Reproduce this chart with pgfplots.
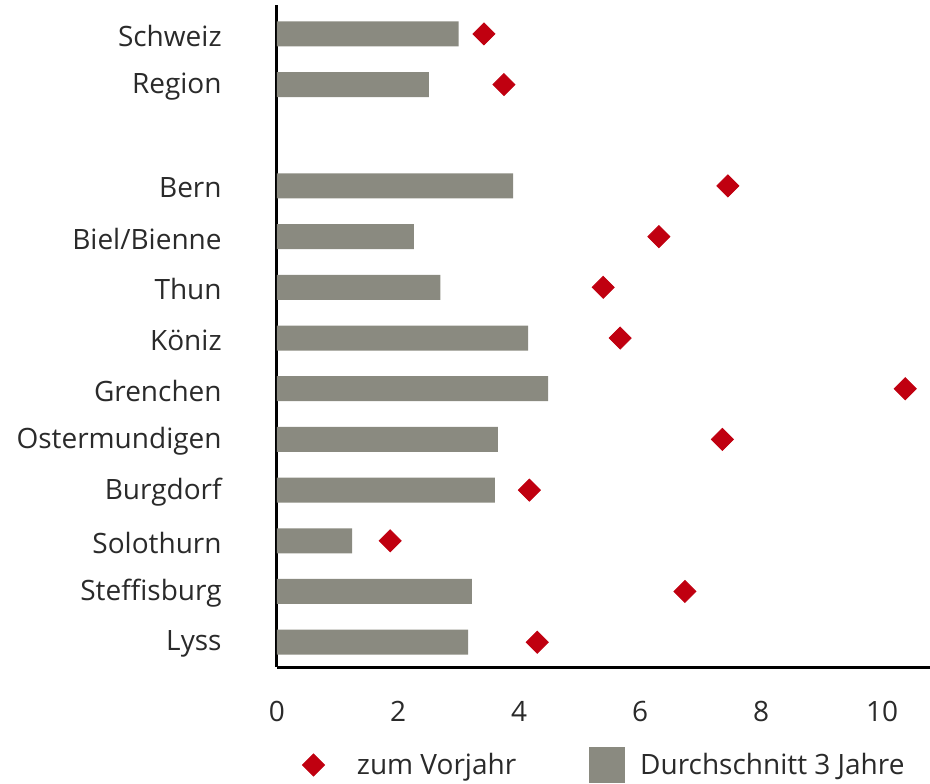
\documentclass[border=0pt]{standalone}
\usepackage{fontspec}
\setmainfont{Open Sans}
\usepackage{pgfplots}
\pgfplotsset{compat=1.18}
\definecolor{bargray}{HTML}{8A8A80}
\definecolor{dred}{HTML}{C00010}
\definecolor{txt}{HTML}{2A2A2A}
\begin{document}
\begin{tikzpicture}
\useasboundingbox (-138.5pt,-58pt) rectangle (326.5pt,333.5pt);
\begin{axis}[
  at={(0,0)}, anchor=south west,
  scale only axis, width=326.5pt, height=331pt,
  xmin=0, xmax=10.79, ymin=-0.49, ymax=12.57,
  axis x line*=bottom, axis y line*=left,
  axis line style={-, line width=1.5pt, black},
  major tick length=0pt,
  xtick={0,2,...,10},
  ytick={0,1,2,3,4,5,6,7,8,9,11,12},
  yticklabels={Lyss,Steffisburg,Solothurn,Burgdorf,Ostermundigen,Grenchen,Köniz,Thun,Biel/Bienne,Bern,Region,Schweiz},
  /pgf/number format/assume math mode=true,
  tick label style={font=\fontsize{14}{16}\selectfont, text=txt},
  yticklabel style={inner xsep=0pt, xshift=-27.5pt, yshift=-1pt},
  xticklabel style={inner ysep=0pt, yshift=-17pt},
  legend style={draw=none, fill=none, at={(axis description cs:0.021,-0.148)}, anchor=west,
    font=\fontsize{14}{16}\selectfont, text=txt,
    /tikz/every even column/.append style={column sep=34.5pt}},
  legend columns=2,
  legend cell align=left,
]
\addplot[only marks, mark=square*, mark size=3.9pt, mark options={rotate=45, fill=dred, draw=dred},
  legend image code/.code={\draw[mark=square*, mark size=3.9pt, mark options={rotate=45, fill=dred, draw=dred}] plot coordinates {(0pt,0pt)}; \path (-8pt,0pt) (19.5pt,0pt);}]
  coordinates {(3.42,12) (3.75,11) (7.45,9) (6.31,8) (5.39,7) (5.67,6) (10.38,5) (7.36,4) (4.17,3) (1.87,2) (6.74,1) (4.30,0)};
\addlegendentry{zum Vorjahr}
\addplot[xbar, bar width=12.5pt, fill=bargray, draw=none,
  legend image code/.code={\fill[bargray] (0pt,-9pt) rectangle (18pt,9pt); \path (23.5pt,0pt);}]
  coordinates {(3.0,12) (2.51,11) (3.90,9) (2.26,8) (2.70,7) (4.15,6) (4.48,5) (3.65,4) (3.60,3) (1.24,2) (3.22,1) (3.16,0)};
\addlegendentry{Durchschnitt 3 Jahre}
\end{axis}
\end{tikzpicture}
\end{document}
